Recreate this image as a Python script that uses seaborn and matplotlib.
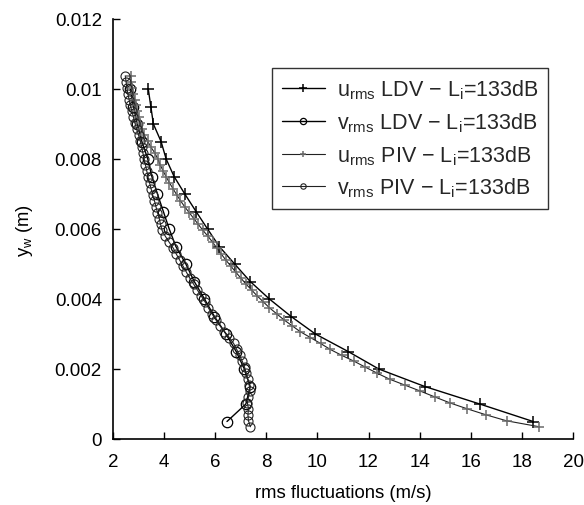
import numpy as np
import pandas as pd
import matplotlib
matplotlib.use("Agg")
import matplotlib.pyplot as plt
import seaborn as sns
from matplotlib.ticker import FuncFormatter

# ---- data ----
y_ldv = [0.0005, 0.001, 0.0015, 0.002, 0.0025, 0.003, 0.0035, 0.004, 0.0045, 0.005,
         0.0055, 0.006, 0.0065, 0.007, 0.0075, 0.008, 0.0085, 0.009, 0.0095, 0.01]
u_ldv = [18.44, 16.35, 14.2, 12.4, 11.2, 9.92, 8.97, 8.12, 7.37, 6.76,
         6.16, 5.70, 5.25, 4.81, 4.39, 4.08, 3.88, 3.58, 3.48, 3.38]
v_ldv = [6.46, 7.20, 7.37, 7.14, 6.82, 6.42, 5.97, 5.58, 5.18, 4.85,
         4.46, 4.20, 3.97, 3.74, 3.52, 3.36, 3.13, 2.95, 2.80, 2.68]

y_piv = [0.00035, 0.00052, 0.00069, 0.00086, 0.00103, 0.0012, 0.00137, 0.00154, 0.00171, 0.00188,
         0.00205, 0.00222, 0.00239, 0.00256, 0.00273, 0.0029, 0.00307, 0.00324, 0.00341, 0.00358,
         0.00375, 0.00392, 0.00409, 0.00426, 0.00443, 0.0046, 0.00477, 0.00494, 0.00511, 0.00528,
         0.00545, 0.00562, 0.00579, 0.00596, 0.00613, 0.0063, 0.00647, 0.00664, 0.00681, 0.00698,
         0.00715, 0.00732, 0.00749, 0.00766, 0.00783, 0.008, 0.00817, 0.00834, 0.00851, 0.00868,
         0.00885, 0.00902, 0.00919, 0.00936, 0.00953, 0.0097, 0.00987, 0.01004, 0.01021, 0.01038]
u_piv = [18.68, 17.40, 16.60, 15.87, 15.19, 14.60, 14.02, 13.42, 12.82, 12.34,
         11.88, 11.44, 10.95, 10.50, 10.12, 9.72, 9.32, 9.00, 8.68, 8.40,
         8.12, 7.88, 7.64, 7.42, 7.20, 7.00, 6.80, 6.61, 6.42, 6.24,
         6.07, 5.90, 5.72, 5.52, 5.34, 5.16, 4.98, 4.80, 4.64, 4.49,
         4.35, 4.21, 4.08, 3.96, 3.85, 3.75, 3.64, 3.48, 3.36, 3.22,
         3.14, 3.07, 3.01, 2.95, 2.90, 2.85, 2.80, 2.76, 2.72, 2.69]
v_piv = [7.38, 7.30, 7.28, 7.30, 7.26, 7.30, 7.36, 7.33, 7.27, 7.21,
         7.15, 7.06, 6.95, 6.84, 6.72, 6.55, 6.36, 6.18, 6.02, 5.87,
         5.73, 5.60, 5.45, 5.30, 5.15, 5.00, 4.87, 4.74, 4.61, 4.48,
         4.36, 4.20, 4.05, 3.92, 3.86, 3.81, 3.74, 3.68, 3.62, 3.55,
         3.49, 3.43, 3.37, 3.32, 3.27, 3.22, 3.17, 3.12, 3.07, 3.00,
         2.93, 2.86, 2.80, 2.74, 2.68, 2.63, 2.58, 2.54, 2.51, 2.48]

labels = [r"u$_{\mathrm{rms}}$ LDV $-$ L$_{\mathrm{i}}$=133dB",
          r"v$_{\mathrm{rms}}$ LDV $-$ L$_{\mathrm{i}}$=133dB",
          r"u$_{\mathrm{rms}}$ PIV $-$ L$_{\mathrm{i}}$=133dB",
          r"v$_{\mathrm{rms}}$ PIV $-$ L$_{\mathrm{i}}$=133dB"]
x_ticks = [2, 4, 6, 8, 10, 12, 14, 16, 18, 20]
y_ticks = [0, 0.002, 0.004, 0.006, 0.008, 0.01, 0.012]

# ---- plot ----
sns.set_theme(style="white")
plt.rcParams['font.family'] = ['Liberation Sans', 'DejaVu Sans']
plt.rcParams['mathtext.fontset'] = 'custom'
plt.rcParams['mathtext.rm'] = 'Liberation Sans'
plt.rcParams['mathtext.it'] = 'Liberation Sans:italic'

fig = plt.figure(figsize=(5.84, 5.06), dpi=100)
ax = fig.add_axes([113/584, 1-440/506, 460/584, 420/506])

sns.lineplot(x=u_ldv, y=y_ldv, ax=ax, sort=False, estimator=None, color='black', lw=1.0,
             marker='+', markersize=8.5, markeredgewidth=1.1, markeredgecolor='black', label=labels[0])
sns.lineplot(x=v_ldv, y=y_ldv, ax=ax, sort=False, estimator=None, color='black', lw=1.0,
             marker='o', markersize=7.5, markerfacecolor='none', markeredgewidth=0.9,
             markeredgecolor='black', label=labels[1])
sns.lineplot(x=u_piv, y=y_piv, ax=ax, sort=False, estimator=None, color='#222222', lw=0.8,
             marker='+', markersize=6.5, markeredgewidth=1.1, markeredgecolor='#6a6a6a', label=labels[2])
sns.lineplot(x=v_piv, y=y_piv, ax=ax, sort=False, estimator=None, color='#222222', lw=0.8,
             marker='o', markersize=6.5, markerfacecolor='none', markeredgewidth=0.8,
             markeredgecolor='#222222', label=labels[3])

ax.set_xlim(2, 20)
ax.set_ylim(0, 0.012)
ax.set_xticks(x_ticks)
ax.set_yticks(y_ticks)
ax.xaxis.set_major_formatter(FuncFormatter(lambda v, p: '%g' % v))
ax.yaxis.set_major_formatter(FuncFormatter(lambda v, p: '%g' % v))
ax.tick_params(axis='both', direction='in', length=5, width=1, color='black',
               labelsize=13.5, colors='black', bottom=True, left=True, pad=8)
ax.tick_params(axis='x', pad=10)
for s in ['top', 'right']:
    ax.spines[s].set_visible(False)
for s in ['left', 'bottom']:
    ax.spines[s].set_color('black')
    ax.spines[s].set_linewidth(1.2)
ax.set_xlabel("rms fluctuations (m/s)", fontsize=13.3, color='black', labelpad=10)
ax.set_ylabel(r"y$_{\mathrm{w}}$ (m)", fontsize=13.3, color='black', labelpad=14)

leg = ax.legend(loc='upper left', bbox_to_anchor=(0.346, 0.883), frameon=True, fancybox=False,
                edgecolor='black', fontsize=15.5, handlelength=2.0, markerscale=0.6,
                borderpad=0.45, labelspacing=0.42, handletextpad=0.55, borderaxespad=0)
leg.get_frame().set_linewidth(1.0)

fig.savefig("out.png", dpi=100)
